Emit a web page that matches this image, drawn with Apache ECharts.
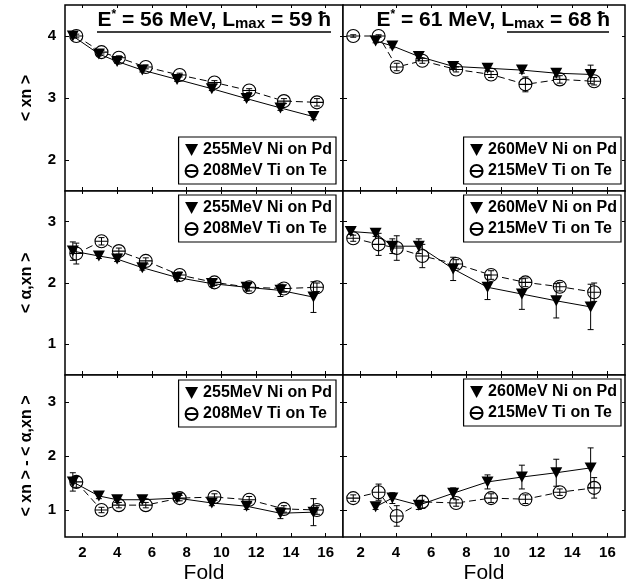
<!DOCTYPE html>
<html>
<head>
<meta charset="utf-8">
<script src="https://cdn.jsdelivr.net/npm/echarts@6/dist/echarts.min.js"></script>
<style>
html, body { margin: 0; padding: 0; background: #fff; }
#main { width: 633px; height: 586px; }
</style>
</head>
<body>
<div id="main"></div>
<script>
// tick values
var foldTicks = [2, 4, 6, 8, 10, 12, 14, 16];
var xnTicks = [2, 3, 4];
var axnTicks = [1, 2, 3];

// fold positions of the points
var foldL_Ni = [1.45, 2.95, 4.0, 5.45, 7.45, 9.45, 11.45, 13.4, 15.3];
var foldL_Ti = [1.65, 3.1, 4.1, 5.65, 7.6, 9.6, 11.6, 13.6, 15.5];
var foldR_Ni = [2.85, 3.8, 5.3, 7.25, 9.2, 11.15, 13.1, 15.05];
var foldR_Ni9 = [1.44, 2.85, 3.8, 5.3, 7.25, 9.2, 11.15, 13.1, 15.05];
var foldR_Ti = [1.58, 3.02, 4.05, 5.5, 7.42, 9.4, 11.35, 13.3, 15.25];

// < xn >
var xnL_Ni = [4.0, 3.71, 3.59, 3.45, 3.30, 3.15, 2.99, 2.84, 2.70];
var xnL_Ti = [4.0, 3.74, 3.65, 3.50, 3.37, 3.25, 3.12, 2.95, 2.93];
var xnR_Ni = [3.92, 3.84, 3.67, 3.51, 3.48, 3.45, 3.40, 3.38];
var xnR_Ti = [4.0, 4.0, 3.50, 3.60, 3.46, 3.38, 3.22, 3.30, 3.27];
var errXnL_Ni = [0.03, 0.03, 0.03, 0.03, 0.03, 0.03, 0.03, 0.04, 0.05];
var errXnL_Ti = [0.03, 0.03, 0.03, 0.03, 0.03, 0.03, 0.03, 0.04, 0.06];
var errXnR_Ni = [0.03, 0.03, 0.03, 0.03, 0.04, 0.05, 0.06, 0.15];
var errXnR_Ti = [0.02, 0.02, 0.06, 0.04, 0.04, 0.05, 0.12, 0.06, 0.06];

// < alpha,xn >
var axnL_Ni = [2.52, 2.44, 2.39, 2.25, 2.09, 1.99, 1.93, 1.88, 1.77];
var axnL_Ti = [2.48, 2.68, 2.52, 2.36, 2.13, 2.01, 1.93, 1.91, 1.93];
var axnR_Ni = [2.84, 2.81, 2.60, 2.60, 2.23, 1.93, 1.82, 1.71, 1.61];
var axnR_Ti = [2.73, 2.63, 2.57, 2.44, 2.31, 2.13, 2.01, 1.94, 1.85];
var errAxnL_Ni = [0.15, 0.04, 0.04, 0.04, 0.05, 0.05, 0.06, 0.10, 0.25];
var errAxnL_Ti = [0.17, 0.06, 0.05, 0.05, 0.05, 0.05, 0.06, 0.06, 0.07];
var errAxnR_Ni = [0.05, 0.05, 0.12, 0.12, 0.19, 0.20, 0.25, 0.28, 0.37];
var errAxnR_Ti = [0.05, 0.18, 0.20, 0.19, 0.07, 0.07, 0.07, 0.07, 0.15];

// < xn > - < alpha,xn >
var difL_Ni = [1.52, 1.26, 1.19, 1.19, 1.22, 1.13, 1.07, 0.94, 0.96];
var difL_Ti = [1.52, 1.00, 1.09, 1.09, 1.22, 1.24, 1.19, 1.02, 1.00];
var difR_Ni = [1.06, 1.22, 1.09, 1.31, 1.52, 1.61, 1.69, 1.78];
var difR_Ti = [1.22, 1.33, 0.89, 1.15, 1.13, 1.22, 1.20, 1.33, 1.41];
var errDifL_Ni = [0.17, 0.05, 0.05, 0.05, 0.05, 0.05, 0.06, 0.10, 0.25];
var errDifL_Ti = [0.10, 0.05, 0.05, 0.05, 0.05, 0.06, 0.06, 0.06, 0.08];
var errDifR_Ni = [0.05, 0.10, 0.08, 0.10, 0.13, 0.22, 0.25, 0.37];
var errDifR_Ti = [0.06, 0.15, 0.19, 0.12, 0.06, 0.08, 0.08, 0.06, 0.19];

var namesL = ['255MeV Ni on Pd', '208MeV Ti on Te'];
var namesR = ['260MeV Ni on Pd', '215MeV Ti on Te'];

var FONT = '"Liberation Sans", Arial, Helvetica, sans-serif';
var triPath = 'path://M0,0L12,0L6,11Z';
var ringPath = 'path://M12,6A6,6,0,1,1,0,6A6,6,0,1,1,12,6ZM0,6L12,6';

var cols = [{ left: 65, width: 278 }, { left: 343, width: 282 }];
var rows = [{ top: 5, height: 186 }, { top: 191, height: 184 }, { top: 375, height: 162 }];

function zip(xs, ys, es) {
  return xs.map(function (x, i) { return [x, ys[i], es[i]]; });
}

var panels = [
  { r: 0, c: 0, ymin: 1.5, ymax: 4.5, ticks: xnTicks, yName: '< xn >', names: namesL,
    ni: zip(foldL_Ni, xnL_Ni, errXnL_Ni), ti: zip(foldL_Ti, xnL_Ti, errXnL_Ti), legTop: 137 },
  { r: 0, c: 1, ymin: 1.5, ymax: 4.5, ticks: xnTicks, names: namesR,
    ni: zip(foldR_Ni, xnR_Ni, errXnR_Ni), ti: zip(foldR_Ti, xnR_Ti, errXnR_Ti), legTop: 137 },
  { r: 1, c: 0, ymin: 0.5, ymax: 3.5, ticks: axnTicks, yName: '< α,xn >', names: namesL,
    ni: zip(foldL_Ni, axnL_Ni, errAxnL_Ni), ti: zip(foldL_Ti, axnL_Ti, errAxnL_Ti), legTop: 195 },
  { r: 1, c: 1, ymin: 0.5, ymax: 3.5, ticks: axnTicks, names: namesR,
    ni: zip(foldR_Ni9, axnR_Ni, errAxnR_Ni), ti: zip(foldR_Ti, axnR_Ti, errAxnR_Ti), legTop: 195 },
  { r: 2, c: 0, ymin: 0.5, ymax: 3.5, ticks: axnTicks, yName: '< xn > - < α,xn >', names: namesL,
    ni: zip(foldL_Ni, difL_Ni, errDifL_Ni), ti: zip(foldL_Ti, difL_Ti, errDifL_Ti), legTop: 380 },
  { r: 2, c: 1, ymin: 0.5, ymax: 3.5, ticks: axnTicks, names: namesR,
    ni: zip(foldR_Ni, difR_Ni, errDifR_Ni), ti: zip(foldR_Ti, difR_Ti, errDifR_Ti), legTop: 379 }
];

function errorBars(params, api) {
  var x = api.value(0), y = api.value(1), e = api.value(2);
  var hi = api.coord([x, y + e]);
  var lo = api.coord([x, y - e]);
  var st = { stroke: '#000', lineWidth: 1 };
  return {
    type: 'group',
    children: [
      { type: 'line', shape: { x1: hi[0], y1: hi[1], x2: lo[0], y2: lo[1] }, style: st },
      { type: 'line', shape: { x1: hi[0] - 3, y1: hi[1], x2: hi[0] + 3, y2: hi[1] }, style: st },
      { type: 'line', shape: { x1: lo[0] - 3, y1: lo[1], x2: lo[0] + 3, y2: lo[1] }, style: st }
    ]
  };
}

var grid = [], xAxis = [], yAxis = [], series = [], legend = [];
var labelStyle = { color: '#000', fontFamily: FONT, fontWeight: 'bold', fontSize: 15 };

panels.forEach(function (p, i) {
  grid.push({
    left: cols[p.c].left, width: cols[p.c].width,
    top: rows[p.r].top, height: rows[p.r].height,
    show: true, borderColor: '#000', borderWidth: 1.5, backgroundColor: '#fff'
  });
  var bottomRow = p.r === 2;
  xAxis.push({
    type: 'value', gridIndex: i, position: 'bottom', min: 1, max: 17,
    axisLine: { show: false }, splitLine: { show: false },
    axisTick: { inside: true, length: 4, customValues: foldTicks, lineStyle: { color: '#000' } },
    axisLabel: Object.assign({ show: bottomRow, customValues: foldTicks, margin: 8 }, labelStyle),
    name: bottomRow ? 'Fold' : '', nameLocation: 'middle', nameGap: 26,
    nameTextStyle: { fontFamily: FONT, fontSize: 21, color: '#000' }
  });
  xAxis.push({
    type: 'value', gridIndex: i, position: 'top', min: 1, max: 17,
    axisLine: { show: false }, splitLine: { show: false }, axisLabel: { show: false },
    axisTick: { inside: true, length: 3, customValues: foldTicks, lineStyle: { color: '#000' } }
  });
  yAxis.push({
    type: 'value', gridIndex: i, position: 'left', min: p.ymin, max: p.ymax,
    axisLine: { show: false }, splitLine: { show: false },
    axisTick: { inside: true, length: 4, customValues: p.ticks, lineStyle: { color: '#000' } },
    axisLabel: Object.assign({ show: p.c === 0, customValues: p.ticks, margin: 9 }, labelStyle),
    name: p.yName || '', nameLocation: 'middle', nameRotate: 90, nameGap: 30,
    nameTextStyle: { fontFamily: FONT, fontWeight: 'bold', fontSize: 16, color: '#000' }
  });
  yAxis.push({
    type: 'value', gridIndex: i, position: 'right', min: p.ymin, max: p.ymax,
    axisLine: { show: false }, splitLine: { show: false }, axisLabel: { show: false },
    axisTick: { inside: true, length: 3, customValues: p.ticks, lineStyle: { color: '#000' } }
  });

  var xi = 2 * i, yi = 2 * i;
  series.push({
    type: 'line', name: p.names[1], xAxisIndex: xi, yAxisIndex: yi, z: 2,
    data: p.ti, symbol: ringPath, symbolSize: 13,
    itemStyle: { color: '#fff', borderColor: '#000', borderWidth: 1.1 },
    lineStyle: { color: '#000', width: 1, type: [7, 4] }
  });
  series.push({
    type: 'line', name: p.names[0], xAxisIndex: xi, yAxisIndex: yi, z: 3,
    data: p.ni, symbol: triPath, symbolSize: [12, 11],
    itemStyle: { color: '#000' },
    lineStyle: { color: '#000', width: 1 }
  });
  series.push({
    type: 'custom', xAxisIndex: xi, yAxisIndex: yi, z: 4,
    renderItem: errorBars, data: p.ti, encode: { x: 0, y: 1 }
  });
  series.push({
    type: 'custom', xAxisIndex: xi, yAxisIndex: yi, z: 4,
    renderItem: errorBars, data: p.ni, encode: { x: 0, y: 1 }
  });

  legend.push({
    orient: 'vertical',
    right: p.c === 0 ? 297 : 12, top: p.legTop,
    data: [{ name: p.names[0], icon: triPath }, { name: p.names[1], icon: ringPath }],
    itemWidth: 13, itemHeight: 12, itemGap: 5,
    padding: [5, 4, 5, 6],
    borderColor: '#000', borderWidth: 1.2, backgroundColor: '#fff',
    selectedMode: false,
    textStyle: { fontFamily: FONT, fontWeight: 'bold', fontSize: 16, color: '#000' }
  });
});

var titleRich = {
  a: { fontFamily: FONT, fontWeight: 'bold', fontSize: 21, lineHeight: 23, fill: '#000' },
  s: { fontFamily: FONT, fontWeight: 'bold', fontSize: 12, lineHeight: 16, verticalAlign: 'top', fill: '#000' },
  b: { fontFamily: FONT, fontWeight: 'bold', fontSize: 15, lineHeight: 15, verticalAlign: 'bottom', fill: '#000' }
};

var myChart = echarts.init(document.getElementById('main'));
myChart.setOption({
  animation: false,
  backgroundColor: '#fff',
  grid: grid, xAxis: xAxis, yAxis: yAxis, series: series, legend: legend,
  graphic: [
    { type: 'text', x: 331, y: 20, z: 10,
      style: { text: '{a|E}{s|*}{a| = 56 MeV, L}{b|max}{a| = 59 ħ}', rich: titleRich, align: 'right', verticalAlign: 'middle' } },
    { type: 'line', z: 10, shape: { x1: 97, y1: 32, x2: 331, y2: 32 }, style: { stroke: '#000', lineWidth: 1.5 } },
    { type: 'text', x: 610, y: 20, z: 10,
      style: { text: '{a|E}{s|*}{a| = 61 MeV, L}{b|max}{a| = 68 ħ}', rich: titleRich, align: 'right', verticalAlign: 'middle' } },
    { type: 'line', z: 10, shape: { x1: 507, y1: 32, x2: 609, y2: 32 }, style: { stroke: '#000', lineWidth: 1.5 } }
  ]
});
</script>
</body>
</html>
